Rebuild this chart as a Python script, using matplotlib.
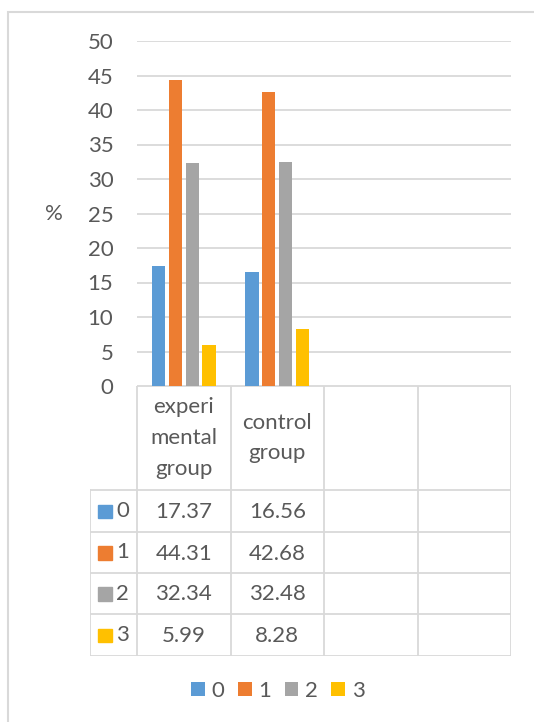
import matplotlib
matplotlib.use("Agg")
import matplotlib.pyplot as plt
from matplotlib.patches import Rectangle
import numpy as np

plt.rcParams["font.family"] = ["Lato", "DejaVu Sans"]

# data
categories = ["experi\nmental\ngroup", "control\ngroup", "", ""]
series_names = ["0", "1", "2", "3"]
score_0 = [17.37, 16.56]
score_1 = [44.31, 42.68]
score_2 = [32.34, 32.48]
score_3 = [5.99, 8.28]
series_values = [score_0, score_1, score_2, score_3]
colors = ["#5B9BD5", "#ED7D31", "#A5A5A5", "#FFC000"]
y_ticks = list(range(0, 55, 5))

text_color = "#595959"
line_color = "#D9D9D9"
fs = 16

W, H = 534, 722
fig = plt.figure(figsize=(W / 100, H / 100), dpi=100)

# outer chart frame (cut off at right and bottom)
fig.add_artist(Rectangle((8 / W, -0.1), 1.2, 1 - 12 / H + 0.1,
                         transform=fig.transFigure, fill=False,
                         edgecolor=line_color, linewidth=1.5))

# bar chart area
ax = fig.add_axes([137 / W, 1 - 386 / H, 374 / W, 345 / H])
n_cat = len(categories)
x = np.arange(n_cat)
slot, width = 0.181, 0.143
for i, (name, vals, c) in enumerate(zip(series_names, series_values, colors)):
    offs = (i - (len(series_names) - 1) / 2) * slot
    ax.bar(x[:len(vals)] + offs, vals, width, color=c, label=name, zorder=3)

ax.set_xlim(-0.5, n_cat - 0.5)
ax.set_ylim(0, 50)
ax.set_yticks(y_ticks)
ax.set_xticks([])
ax.tick_params(axis="y", length=0, pad=17, labelsize=fs, labelcolor=text_color)
for s in ax.spines.values():
    s.set_visible(False)
ax.grid(axis="y", color=line_color, linewidth=1.3, zorder=0)
ax.set_ylabel("%", rotation=0, fontsize=fs, color=text_color, va="center")
ax.yaxis.set_label_coords(-0.222, 0.5)

# data table below the plot
left_px = 90
tx_min = -0.5 - (137 - left_px) / 93.5
tab = fig.add_axes([left_px / W, 1 - 656 / H, (511 - left_px) / W, 270 / H])
tab.set_xlim(tx_min, n_cat - 0.5)
tab.set_ylim(270, 0)
tab.axis("off")
rows = [0, 104, 146, 187, 228, 270]
lkw = dict(color=line_color, linewidth=1.3, solid_capstyle="projecting")
for xb in np.arange(n_cat + 1) - 0.5:
    tab.plot([xb, xb], [0, rows[-1]], **lkw)
tab.plot([tx_min, tx_min], [rows[1], rows[-1]], **lkw)
tab.plot([-0.5, n_cat - 0.5], [0, 0], **lkw)
for yb in rows[1:]:
    tab.plot([tx_min, n_cat - 0.5], [yb, yb], **lkw)

for j, cat in enumerate(categories):
    tab.text(j, (rows[0] + rows[1]) / 2, cat, ha="center", va="center",
             fontsize=fs, color=text_color, linespacing=1.68)

for i, (name, vals, c) in enumerate(zip(series_names, series_values, colors)):
    yc = (rows[i + 1] + rows[i + 2]) / 2
    tab.add_patch(Rectangle((tx_min + 0.085, yc - 6.5), 0.145, 13.5, color=c))
    tab.text(tx_min + 0.35, yc, name, ha="center", va="center",
             fontsize=fs, color=text_color)
    for j, v in enumerate(vals):
        tab.text(j, yc + 1, f"{v:.2f}", ha="center", va="center",
                 fontsize=fs, color=text_color)

# legend at the bottom
handles, labels = ax.get_legend_handles_labels()
fig.legend(handles, labels, loc="center", bbox_to_anchor=(278 / W, 1 - 691 / H),
           ncol=4, frameon=False, fontsize=fs, labelcolor=text_color,
           handlelength=0.62, handleheight=0.62, handletextpad=0.3,
           columnspacing=0.6)

fig.savefig("out.png", dpi=100)
